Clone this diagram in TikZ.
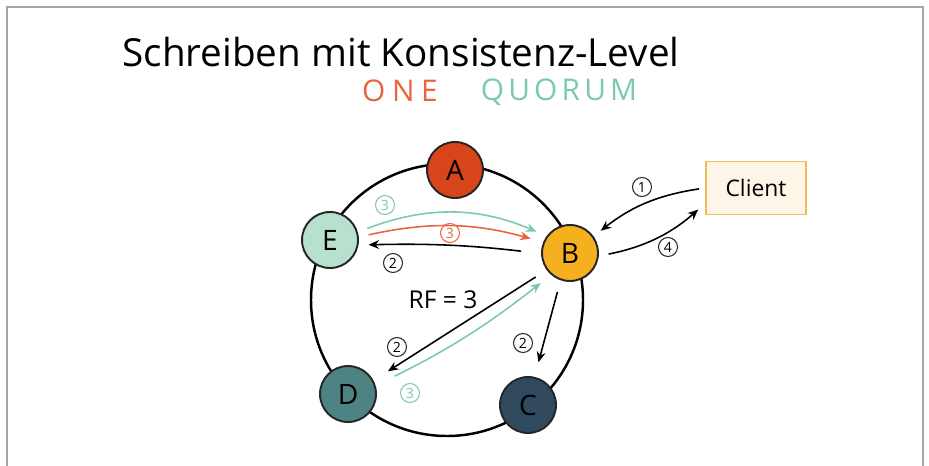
\documentclass[tikz,border=0pt]{standalone}
\usepackage{fontspec}
\setmainfont{Open Sans}
\usepackage{tikz}
\usetikzlibrary{arrows.meta, positioning}
\usepackage{xcolor}

\definecolor{oneorange}{HTML}{E8643E}
\definecolor{quorumteal}{HTML}{7CC9AE}
\definecolor{nodeA}{HTML}{D9451B}
\definecolor{nodeB}{HTML}{F5B01F}
\definecolor{nodeC}{HTML}{2F4B5D}
\definecolor{nodeD}{HTML}{4E8383}
\definecolor{nodeE}{HTML}{B8E0CF}
\definecolor{clientborder}{HTML}{F0BC5A}
\definecolor{clientfill}{HTML}{FDF5E8}

\begin{document}
\begin{tikzpicture}[x=0.02cm, y=-0.02cm,
    ring/.style={circle, draw=black!85, line width=1.1pt, minimum size=1.12cm, inner sep=0pt, font=\fontsize{16}{16}\selectfont},
    num/.style={circle, draw=black!85, line width=0.6pt, minimum size=0.38cm, inner sep=0pt, font=\fontsize{8}{8}\selectfont},
    msg/.style={line width=0.9pt, -{Stealth[length=6pt, width=5pt]}}]
                \useasboundingbox (0,0) rectangle (929,466);

                % Rahmen
                \draw[black!35, line width=1.1pt] (7,466) -- (7,7) -- (923,7) -- (923,466);

                % Titel
                \node[font=\fontsize{22}{22}\selectfont, inner sep=0pt, anchor=base] (title) at (401,67) {Schreiben mit Konsistenz-Level};
                \node[font=\fontsize{17}{17}\selectfont\addfontfeatures{LetterSpace=22}, text=oneorange, inner sep=0pt, anchor=base] (one) at (400,102) {ONE};
                \node[font=\fontsize{17}{17}\selectfont\addfontfeatures{LetterSpace=14}, text=quorumteal, inner sep=0pt, anchor=base] (quorum) at (559,100) {QUORUM};

                % Ring
                \draw[line width=1.4pt] (447,300) circle[radius=136];

                % Knoten
                \node[ring, fill=nodeA] (A) at (455,170) {A};
                \node[ring, fill=nodeB] (B) at (570,253) {B};
                \node[ring, fill=nodeC] (C) at (528,405) {C};
                \node[ring, fill=nodeD] (D) at (348,394) {D};
                \node[ring, fill=nodeE] (E) at (330,240) {E};
                \node[font=\fontsize{14}{14}\selectfont] (rf) at (443,300) {RF = 3};

                % Client
                \node[draw=clientborder, fill=clientfill, line width=1.1pt, minimum width=2cm, minimum height=1.06cm, font=\fontsize{13}{13}\selectfont] (Client) at (756,188) {Client};

                % Anfrage vom Client
                \draw[msg, shorten <=0.12cm, shorten >=0.18cm] (Client.west) to[bend right=15] (B.35);
                \draw[msg, shorten <=0.2cm, shorten >=0.18cm] (B.-6) to[bend right=15] (Client.197);
                \node[num] (n1) at (642,187) {1};
                \node[num] (n4) at (668,247) {4};

                % Weiterleitung an die Replikate
                \draw[msg, shorten <=0.4cm, shorten >=0.2cm] (B.181) to[bend right=4] (E.-10);
                \draw[msg, shorten <=0.26cm, shorten >=0.34cm] (B.216) -- (D.28);
                \draw[msg, shorten <=0.24cm, shorten >=0.3cm] (B.251) -- (C.77);
                \node[num] (n2e) at (393,263) {2};
                \node[num] (n2d) at (397,347) {2};
                \node[num] (n2c) at (523,343) {2};

                % Bestaetigungen
                \draw[msg, quorumteal, shorten <=0.2cm, shorten >=0.22cm] (E.16) to[bend left=22] (B.144);
                \draw[msg, oneorange, shorten <=0.2cm, shorten >=0.26cm] (E.6) to[bend left=14] (B.158);
                \draw[msg, quorumteal, shorten <=0.42cm, shorten >=0.26cm] (D.17) to[bend right=6] (B.229);
                \node[num, draw=quorumteal, text=quorumteal] (n3e) at (385,205) {3};
                \node[num, draw=oneorange, text=oneorange] (n3o) at (450,233) {3};
                \node[num, draw=quorumteal, text=quorumteal] (n3d) at (410,393) {3};
            \end{tikzpicture}
\end{document}
